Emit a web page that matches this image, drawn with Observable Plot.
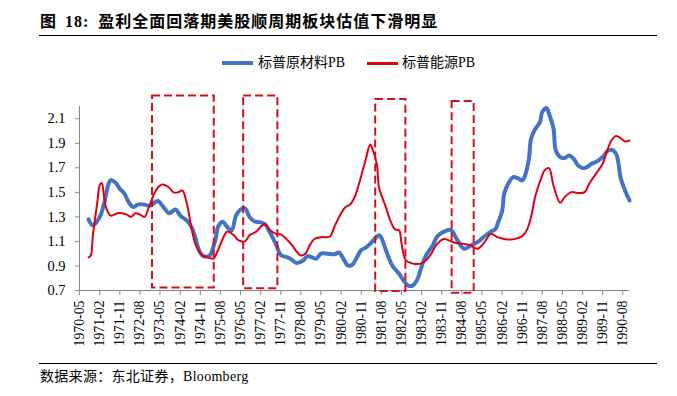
<!DOCTYPE html>
<html>
<head>
<meta charset="utf-8">
<script src="https://cdn.jsdelivr.net/npm/d3@7"></script>
<script src="https://cdn.jsdelivr.net/npm/@observablehq/plot@0.6"></script>
<style>
html,body{margin:0;padding:0;background:#fff;}
#wrap{position:relative;width:677px;height:396px;overflow:hidden;font-family:"Liberation Serif","Noto Sans CJK SC",serif;color:#000;}
#title{position:absolute;left:40px;top:14px;font-size:16px;line-height:16px;font-weight:700;letter-spacing:1px;white-space:nowrap;}
#tline{position:absolute;left:39px;top:35px;width:618px;height:0;border-top:1px solid #000;}
.lg{position:absolute;font-size:14px;line-height:14px;top:56px;white-space:nowrap;}
.sw{position:absolute;width:31px;}
#chart{position:absolute;left:0;top:78px;}
#cline{position:absolute;left:39px;top:363px;width:618px;height:0;border-top:1px solid #000;}
#caption{position:absolute;left:40px;top:370px;font-size:14px;line-height:14px;white-space:nowrap;letter-spacing:0.3px;}
</style>
</head>
<body>
<div id="wrap">
  <div id="title"><span>图</span><span style="margin-left:8px">18:</span><span style="margin-left:9px">盈利全面回落期美股顺周期板块估值下滑明显</span></div>
  <div id="tline"></div>
  <div class="sw" style="left:222px;top:61px;height:4px;background:#4472C4"></div>
  <div class="lg" style="left:258px">标普原材料PB</div>
  <div class="sw" style="left:367px;top:62px;height:2.5px;background:#E00012"></div>
  <div class="lg" style="left:402px">标普能源PB</div>
  <div id="chart"></div>
  <div id="cline"></div>
  <div id="caption">数据来源：东北证券，Bloomberg</div>
</div>
<script>
const seriesNames = ["标普原材料PB", "标普能源PB"];
const tickLabels = ["1970-05","1971-02","1971-11","1972-08","1973-05","1974-02","1974-11","1975-08","1976-05","1977-02","1977-11","1978-08","1979-05","1980-02","1980-11","1981-08","1982-05","1983-02","1983-11","1984-08","1985-05","1986-02","1986-11","1987-08","1988-05","1989-02","1989-11","1990-08"];
const yTicks = [0.7, 0.9, 1.1, 1.3, 1.5, 1.7, 1.9, 2.1];
const xRange = ["1970-05", "1990-11"];
const yRange = [0.7, 2.2];

const matDates = ["1970-09","1970-11","1971-02","1971-04","1971-06","1971-07","1971-09","1971-11","1972-01","1972-03","1972-05","1972-07","1972-10","1972-12","1973-02","1973-04","1973-07","1973-09","1973-12","1974-02","1974-05","1974-07","1974-09","1974-10","1974-12","1975-03","1975-04","1975-06","1975-07","1975-09","1975-11","1976-01","1976-03","1976-05","1976-07","1976-09","1976-11","1977-02","1977-04","1977-06","1977-09","1977-11","1978-02","1978-04","1978-06","1978-09","1978-11","1979-01","1979-03","1979-05","1979-08","1979-11","1980-01","1980-03","1980-05","1980-07","1980-09","1980-11","1981-01","1981-03","1981-05","1981-07","1981-08","1981-10","1982-01","1982-04","1982-06","1982-08","1982-10","1982-12","1983-02","1983-04","1983-07","1983-09","1983-12","1984-03","1984-04","1984-06","1984-09","1984-12","1985-03","1985-06","1985-09","1985-11","1985-12","1986-02","1986-03","1986-05","1986-07","1986-09","1986-11","1986-12","1987-02","1987-03","1987-05","1987-07","1987-08","1987-10","1987-11","1988-01","1988-02","1988-04","1988-06","1988-08","1988-10","1988-12","1989-02","1989-04","1989-06","1989-08","1989-11","1990-01","1990-03","1990-05","1990-06","1990-07","1990-09","1990-11"];
const matPB = [1.28,1.23,1.30,1.41,1.57,1.60,1.58,1.53,1.49,1.42,1.38,1.40,1.40,1.39,1.41,1.43,1.37,1.33,1.36,1.31,1.27,1.22,1.12,1.05,0.985,0.98,1.01,1.13,1.22,1.26,1.22,1.19,1.31,1.36,1.37,1.30,1.265,1.255,1.24,1.18,1.07,0.99,0.97,0.95,0.925,0.945,0.98,0.97,0.96,1.00,1.00,0.995,1.01,0.96,0.905,0.91,0.97,1.03,1.05,1.08,1.12,1.15,1.13,1.03,0.90,0.836,0.78,0.74,0.74,0.787,0.896,0.985,1.067,1.14,1.18,1.195,1.176,1.11,1.04,1.067,1.094,1.14,1.18,1.20,1.244,1.35,1.49,1.578,1.624,1.616,1.597,1.624,1.774,1.937,2.02,2.073,2.155,2.187,2.141,2.02,1.842,1.788,1.78,1.80,1.774,1.72,1.698,1.706,1.733,1.747,1.788,1.834,1.847,1.815,1.747,1.624,1.516,1.434];

const eneDates = ["1970-09","1970-10","1970-11","1971-01","1971-02","1971-03","1971-04","1971-05","1971-07","1971-10","1971-12","1972-02","1972-04","1972-06","1972-08","1972-10","1972-12","1973-02","1973-04","1973-06","1973-09","1973-11","1974-01","1974-03","1974-05","1974-07","1974-09","1974-12","1975-02","1975-04","1975-05","1975-07","1975-09","1975-11","1976-02","1976-04","1976-07","1976-09","1976-12","1977-02","1977-04","1977-06","1977-09","1977-11","1978-02","1978-04","1978-06","1978-08","1978-10","1978-12","1979-02","1979-05","1979-07","1979-09","1979-11","1980-02","1980-04","1980-06","1980-08","1980-10","1981-01","1981-03","1981-04","1981-06","1981-07","1981-10","1981-12","1982-02","1982-04","1982-05","1982-07","1982-10","1983-01","1983-04","1983-06","1983-09","1983-12","1984-02","1984-05","1984-09","1984-12","1985-03","1985-06","1985-09","1985-12","1986-03","1986-06","1986-09","1986-11","1987-01","1987-03","1987-05","1987-08","1987-09","1987-11","1988-01","1988-04","1988-06","1988-09","1988-12","1989-03","1989-05","1989-08","1989-11","1990-01","1990-03","1990-05","1990-07","1990-09","1990-11"];
const enePB = [0.97,0.985,1.16,1.43,1.56,1.575,1.46,1.37,1.31,1.33,1.33,1.32,1.30,1.33,1.32,1.30,1.38,1.475,1.54,1.565,1.54,1.50,1.50,1.515,1.41,1.22,1.07,0.985,0.97,0.96,0.96,1.03,1.12,1.18,1.15,1.11,1.10,1.15,1.18,1.22,1.24,1.195,1.16,1.157,1.11,1.07,1.02,0.985,1.00,1.07,1.12,1.135,1.135,1.14,1.22,1.33,1.38,1.40,1.46,1.57,1.77,1.89,1.855,1.73,1.54,1.38,1.27,1.20,1.19,1.09,0.945,0.92,0.917,0.945,0.99,1.08,1.12,1.11,1.09,1.08,1.067,1.04,1.09,1.16,1.135,1.12,1.116,1.127,1.143,1.19,1.298,1.475,1.638,1.679,1.698,1.556,1.415,1.461,1.502,1.494,1.502,1.57,1.652,1.733,1.842,1.923,1.959,1.943,1.915,1.923];

const boxStart = ["1973-01-19","1976-06-13","1981-05-16","1984-03-22"];
const boxEnd = ["1975-05-10","1977-09-22","1982-07-01","1985-01-16"];
const boxTop = [2.285, 2.285, 2.258, 2.24];
const boxBottom = [0.72, 0.715, 0.692, 0.678];

const d = s => new Date(s);
const mat = matDates.map((m, i) => ({date: d(m), v: matPB[i]}));
const ene = eneDates.map((m, i) => ({date: d(m), v: enePB[i]}));
const boxes = boxStart.map((s, i) => ({x1: d(s), x2: d(boxEnd[i]), y1: boxBottom[i], y2: boxTop[i]}));
const xDomain = xRange.map(d);
const axisGray = "#898989";

const chart = Plot.plot({
  width: 677,
  height: 280,
  marginLeft: 79,
  marginRight: 48,
  marginTop: 28,
  marginBottom: 68,
  style: {fontFamily: "'Liberation Serif', 'Noto Sans CJK SC', serif", fontSize: "13.5px", color: "#000", background: "transparent"},
  x: {type: "utc", domain: xDomain, axis: null},
  y: {domain: yRange, axis: null},
  marks: [
    Plot.ruleX([xDomain[0]], {y1: yRange[0], y2: yRange[1], stroke: axisGray, strokeWidth: 1}),
    Plot.ruleY([yRange[0]], {x1: xDomain[0], x2: xDomain[1], stroke: axisGray, strokeWidth: 1}),
    Plot.axisY(yTicks, {anchor: "left", tickSize: 4, tickPadding: 10, tickFormat: d3.format(".1f"), stroke: axisGray, fill: "#000", fontSize: 14.5}),
    Plot.axisX(tickLabels.map(d), {anchor: "bottom", tickSize: 5, tickPadding: 5, tickRotate: -90, tickFormat: d3.utcFormat("%Y-%m"), stroke: axisGray, fill: "#000", fontSize: 13.8}),
    Plot.line(mat, {x: "date", y: "v", stroke: "#4472C4", strokeWidth: 4, curve: "catmull-rom"}),
    Plot.line(ene, {x: "date", y: "v", stroke: "#E00012", strokeWidth: 2, curve: "catmull-rom"}),
    Plot.rect(boxes, {x1: "x1", x2: "x2", y1: "y1", y2: "y2", fill: "none", stroke: "#D0101A", strokeWidth: 2, strokeDasharray: "8,4"})
  ]
});
document.getElementById("chart").appendChild(chart);
</script>
</body>
</html>
